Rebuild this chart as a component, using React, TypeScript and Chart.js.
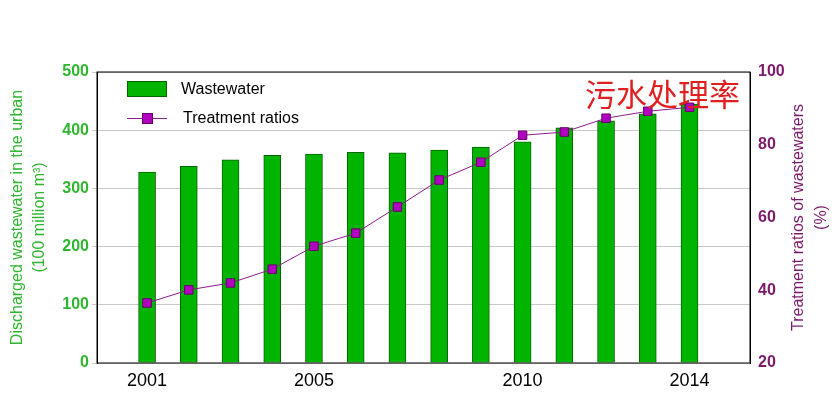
import React, { useEffect, useRef } from "react";
import { Chart, registerables } from "chart.js";
Chart.register(...registerables);

const years = [2001,2002,2003,2004,2005,2006,2007,2008,2009,2010,2011,2012,2013,2014];
const wastewater = [328,338,349,357,359,362,361,366,371,380,404,416,428,445];
const ratios = [36.5,40.1,42,45.8,52.1,55.7,62.9,70.3,75.2,82.6,83.5,87.3,89.2,90.3];
const xTickLabels = [2001,2005,2010,2014];
const leftTitle = ["Discharged wastewater in the urban", "(100 million m³)"];
const rightTitle = ["Treatment ratios of wastewaters", "(%)"];

const frame = {
  id: "frame",
  afterDraw(c: any) {
    const a = c.chartArea, ctx = c.ctx;
    ctx.save();
    ctx.strokeStyle = "#000"; ctx.lineWidth = 1;
    ctx.strokeRect(a.left, a.top, a.right - a.left, a.bottom - a.top);
    const cy = (a.top + a.bottom) / 2;
    ctx.font = "16px 'Liberation Sans'";
    ctx.textAlign = "center"; ctx.textBaseline = "middle";
    const draw = (lines: string[], xs: number[], color: string) => {
      ctx.fillStyle = color;
      lines.forEach((t, i) => {
        ctx.save(); ctx.translate(xs[i], cy); ctx.rotate(-Math.PI / 2);
        ctx.fillText(t, 0, 0); ctx.restore();
      });
    };
    draw(leftTitle, [18, 40], "#2fb52f");
    draw(rightTitle, [799, 822], "#7b1a6b");
    ctx.restore();
  },
};

export default function App() {
  const ref = useRef<HTMLCanvasElement>(null);
  useEffect(() => {
    document.body.style.margin = "0";
    const ch = new Chart(ref.current!, {
      type: "bar",
      data: {
        datasets: [
          { type: "bar", label: "Wastewater", data: years.map((y, i) => ({ x: y, y: wastewater[i] })),
            backgroundColor: "#00b400", borderColor: "#006400", borderWidth: 1, barThickness: 17, yAxisID: "y", order: 2 },
          { type: "line", label: "Treatment ratios", data: years.map((y, i) => ({ x: y, y: ratios[i] })),
            borderColor: "#8b1a8b", borderWidth: 1, pointStyle: "rect", pointRadius: 6,
            pointBackgroundColor: "#b000c0", pointBorderColor: "#6a006a", yAxisID: "y1", order: 1 },
        ] as any,
      },
      options: {
        animation: false, responsive: false,
        layout: { padding: { top: 72, left: 0, right: 0, bottom: 0 } },
        plugins: { legend: { display: false }, tooltip: { enabled: false } },
        scales: {
          x: { type: "linear", min: 1999.8, max: 2015.45, offset: false,
            afterBuildTicks: (s: any) => { s.ticks = xTickLabels.map(v => ({ value: v })); },
            afterFit: (s: any) => { s.height = 39; },
            grid: { display: false, drawTicks: true, tickLength: 5 },
            border: { display: false },
            ticks: { color: "#000", font: { family: "Liberation Sans", size: 18 }, callback: (v: any) => String(v), padding: 2 } },
          y: { position: "left", min: 0, max: 500,
            afterFit: (s: any) => { s.width = 97; },
            ticks: { stepSize: 100, color: "#2fb52f", font: { family: "Liberation Sans", size: 16, weight: "bold" } },
            grid: { color: "#c8c8c8", tickLength: 5 }, border: { color: "#000" } },
          y1: { position: "right", min: 20, max: 100,
            afterFit: (s: any) => { s.width = 84; },
            ticks: { stepSize: 20, color: "#7b1a6b", font: { family: "Liberation Sans", size: 16, weight: "bold" } },
            grid: { display: false, tickLength: 5 }, border: { color: "#000" } },
        },
      } as any,
      plugins: [frame],
    });
    return () => ch.destroy();
  }, []);
  return (
    <div style={{ position: "relative", width: 834, height: 402, background: "#fff" }}>
      <canvas ref={ref} width={834} height={402} />
      <div style={{ position: "absolute", left: 127, top: 80, display: "flex", alignItems: "center", font: "16px 'Liberation Sans'" }}>
        <span style={{ display: "inline-block", width: 38, height: 14, background: "#00b400", border: "1px solid #006400", marginRight: 14 }} />Wastewater
      </div>
      <div style={{ position: "absolute", left: 127, top: 109, display: "flex", alignItems: "center", font: "16px 'Liberation Sans'" }}>
        <span style={{ position: "relative", display: "inline-block", width: 40, height: 14, marginRight: 16 }}>
          <span style={{ position: "absolute", left: 0, right: 0, top: 7, height: 1, background: "#8b1a8b" }} />
          <span style={{ position: "absolute", left: 15, top: 2, width: 9, height: 9, background: "#b000c0", border: "1px solid #6a006a" }} />
        </span>Treatment ratios
      </div>
      <div style={{ position: "absolute", left: 585, top: 74, color: "#e02020", font: "31px 'Noto Sans CJK SC'", lineHeight: "38px" }}>污水处理率</div>
    </div>
  );
}
